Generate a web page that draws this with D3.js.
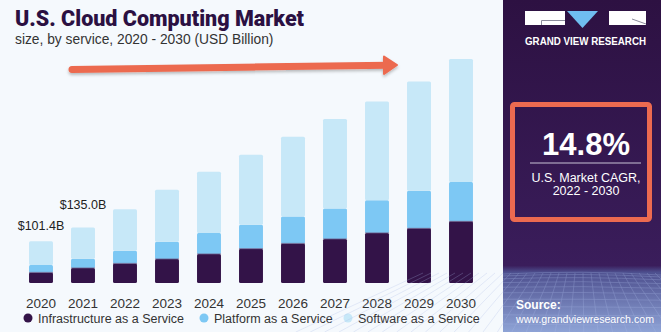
<!DOCTYPE html>
<html>
<head>
<meta charset="utf-8">
<script src="https://cdn.jsdelivr.net/npm/d3@7"></script>
<style>
  body { margin: 0; background: #f5f9fd; }
  text { font-family: "Liberation Sans", Arial, sans-serif; }
</style>
</head>
<body>
<svg id="chart"></svg>
<script>
const years = ["2020", "2021", "2022", "2023", "2024", "2025", "2026", "2027", "2028", "2029", "2030"];
const iaas = [25.8, 36.5, 47.7, 58.4, 70.6, 83.5, 96.4, 107.1, 121.8, 133.0, 150.0];
const paas = [18.0, 22.6, 30.9, 42.1, 51.1, 58.4, 65.7, 74.5, 79.4, 91.8, 95.9];
const saas = [57.6, 75.9, 100.6, 126.6, 149.3, 170.5, 194.1, 217.7, 240.3, 265.4, 299.5];
const seriesNames = ["Infrastructure as a Service", "Platform as a Service", "Software as a Service"];
const barLabels = [{ year: "2020", text: "$101.4B" }, { year: "2021", text: "$135.0B" }];
const cagr = "14.8%";

const width = 661, height = 332;
const colors = ["#331348", "#7dc8f4", "#c7e8f8"];

const svg = d3.select("#chart").attr("width", width).attr("height", height);
svg.append("rect").attr("width", width).attr("height", height).attr("fill", "#f5f9fd");

const rows = years.map((y, i) => ({ year: y, iaas: iaas[i], paas: paas[i], saas: saas[i] }));
const stack = d3.stack().keys(["iaas", "paas", "saas"])(rows);

const x = d3.scaleBand().domain(years).range([20, 482]).paddingInner(0.43).paddingOuter(0.215);
const y = d3.scaleLinear().domain([0, 550]).range([283, 57]);

// title
svg.append("text").attr("x", 15).attr("y", 25.5)
    .attr("fill", "#2b1042").attr("font-size", 21.5).attr("font-weight", 900)
    .style("font-family", "Roboto, 'Liberation Sans', sans-serif")
    .text("U.S. Cloud Computing Market");
svg.append("text").attr("x", 15).attr("y", 44)
    .attr("fill", "#333").attr("font-size", 13.8)
    .text("size, by service, 2020 - 2030 (USD Billion)");

// growth arrow
const defs = svg.append("defs");
const sh = defs.append("filter").attr("id", "sh").attr("x", "-5%").attr("y", "-50%").attr("width", "110%").attr("height", "200%");
sh.append("feDropShadow").attr("dx", 0).attr("dy", 2).attr("stdDeviation", 1.5).attr("flood-color", "#000").attr("flood-opacity", 0.25);

const arrow = svg.append("g").attr("filter", "url(#sh)");
arrow.append("line").attr("x1", 72).attr("y1", 69.5).attr("x2", 388).attr("y2", 65.2)
    .attr("stroke", "#ec6a50").attr("stroke-width", 7).attr("stroke-linecap", "round");
arrow.append("path").attr("d", "M384,56.5 L397,65 L384,74 Z")
    .attr("fill", "#ec6a50").attr("stroke", "#ec6a50").attr("stroke-width", 2).attr("stroke-linejoin", "round");

// bars
svg.append("g").selectAll("g")
    .data(stack)
    .join("g")
    .attr("fill", (d, i) => colors[i])
    .selectAll("rect")
    .data(d => d)
    .join("rect")
    .attr("x", d => x(d.data.year))
    .attr("y", d => y(d[1]))
    .attr("width", x.bandwidth())
    .attr("height", d => y(d[0]) - y(d[1]))
    .attr("rx", 1.5);

// divider lines between segments
svg.append("g").selectAll("line")
    .data(stack[0])
    .join("line")
    .attr("x1", d => x(d.data.year)).attr("x2", d => x(d.data.year) + x.bandwidth())
    .attr("y1", d => y(d[1])).attr("y2", d => y(d[1]))
    .attr("stroke", "#6a5a88").attr("stroke-width", 0.8);

// value labels
const totals = {};
rows.forEach(r => totals[r.year] = r.iaas + r.paas + r.saas);
const lift = [11, 19];
svg.append("g").selectAll("text")
    .data(barLabels)
    .join("text")
    .attr("x", d => x(d.year) + x.bandwidth() / 2)
    .attr("y", (d, i) => y(totals[d.year]) - lift[i])
    .attr("text-anchor", "middle").attr("font-size", 12.5).attr("fill", "#222")
    .text(d => d.text);

// x axis
const xAxis = svg.append("g").attr("transform", "translate(0,284)")
    .call(d3.axisBottom(x).tickSize(0).tickPadding(14));
xAxis.select(".domain").remove();
xAxis.selectAll("text").attr("font-size", 13.5).attr("fill", "#333")
    .style("font-family", "'Liberation Sans', Arial, sans-serif");

// legend
const legendX = [28, 204, 348];
const lg = svg.append("g").selectAll("g")
    .data(seriesNames)
    .join("g")
    .attr("transform", (d, i) => `translate(${legendX[i]},318)`);
lg.append("circle").attr("r", 4.5).attr("fill", (d, i) => colors[i]);
lg.append("text").attr("x", 10).attr("y", 4.5).attr("font-size", 12.5).attr("fill", "#333").text(d => d);

// right panel
const panelX = 503;
const pg = defs.append("linearGradient").attr("id", "pg").attr("x1", 0).attr("y1", 0).attr("x2", 0).attr("y2", 1);
pg.append("stop").attr("offset", "0%").attr("stop-color", "#2d1142");
pg.append("stop").attr("offset", "80%").attr("stop-color", "#3a1d5b");
pg.append("stop").attr("offset", "82%").attr("stop-color", "#4d4f8e");
pg.append("stop").attr("offset", "100%").attr("stop-color", "#8ea3d6");
svg.append("rect").attr("x", panelX).attr("y", 0).attr("width", width - panelX).attr("height", height).attr("fill", "url(#pg)");

// wire grid in the panel foot
const grid = svg.append("g").attr("stroke", "#aab8e6").attr("stroke-width", 0.6).attr("fill", "none").attr("opacity", 0.45);
d3.range(0, 12).forEach(k => {
  const yy = 274 + k * k * 0.45 + k * 1.5;
  grid.append("path").attr("d", `M${panelX},${yy} Q582,${yy - 4 + k * 0.6} 661,${yy + 1}`);
});
d3.range(-10, 22).forEach(k => {
  const top = panelX + k * 8;
  grid.append("line").attr("x1", top).attr("y1", 273).attr("x2", 582 + (top - 582) * 1.8).attr("y2", 332);
});

// logo
const logo = svg.append("g");
logo.append("rect").attr("x", 525).attr("y", 11).attr("width", 40).attr("height", 14).attr("fill", "#fff");
logo.append("path").attr("d", "M541.5,25 V20.5 H565").attr("stroke", "#8c8c9c").attr("stroke-width", 1).attr("fill", "none");
logo.append("path").attr("d", "M567,11 L598,11 L582.5,28 Z").attr("fill", "#6fbdf0");
logo.append("rect").attr("x", 609).attr("y", 11).attr("width", 37).attr("height", 14).attr("fill", "#fff");
logo.append("path").attr("d", "M632,19 L646,24").attr("stroke", "#8c8c9c").attr("stroke-width", 1);
logo.append("text").attr("x", 525).attr("y", 44.5).attr("font-size", 10).attr("font-weight", 700)
    .attr("fill", "#fff").attr("textLength", 121).attr("lengthAdjust", "spacingAndGlyphs")
    .text("GRAND VIEW RESEARCH");

// CAGR box
svg.append("rect").attr("x", 512.5).attr("y", 104.5).attr("width", 137).attr("height", 115)
    .attr("fill", "none").attr("stroke", "#ec6a50").attr("stroke-width", 5).attr("rx", 2);
svg.append("text").attr("x", 586).attr("y", 155).attr("text-anchor", "middle")
    .attr("font-size", 31).attr("font-weight", 700).attr("fill", "#fff").text(cagr);
svg.append("line").attr("x1", 530).attr("x2", 641).attr("y1", 163).attr("y2", 163)
    .attr("stroke", "#c9c3d6").attr("stroke-width", 1);
svg.append("text").attr("x", 586).attr("y", 182).attr("text-anchor", "middle")
    .attr("font-size", 12.5).attr("fill", "#fff").text("U.S. Market CAGR,");
svg.append("text").attr("x", 586).attr("y", 195).attr("text-anchor", "middle")
    .attr("font-size", 12.5).attr("fill", "#fff").text("2022 - 2030");

// source
svg.append("text").attr("x", 516).attr("y", 309).attr("font-size", 12).attr("font-weight", 700)
    .attr("fill", "#fff").text("Source:");
svg.append("text").attr("x", 516).attr("y", 323).attr("font-size", 11)
    .attr("fill", "#fff").attr("textLength", 138).attr("lengthAdjust", "spacingAndGlyphs")
    .text("www.grandviewresearch.com");
</script>
</body>
</html>
